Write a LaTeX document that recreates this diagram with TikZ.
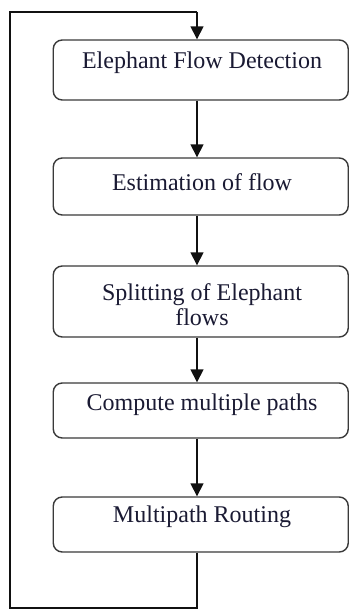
\documentclass[tikz,border=0pt]{standalone}
\usepackage{fontspec}
\setmainfont{Liberation Serif}
\usetikzlibrary{arrows.meta}
\definecolor{boxline}{HTML}{3A3A3A}
\definecolor{inkline}{HTML}{111111}
\definecolor{labelink}{HTML}{1A1A33}
\tikzset{
  stagebox/.style={draw=boxline, line width=1.4pt, rounded corners=9pt,
    minimum width=295pt, inner sep=0pt, fill=white},
  stagetext/.style={text=labelink, align=center, inner sep=0pt,
    font=\fontsize{24}{25}\selectfont},
  flow/.style={draw=inkline, line width=1.6pt,
    -{Triangle[width=13pt,length=13pt]}},
  loopline/.style={draw=inkline, line width=1.6pt}
}
\begin{document}
\begin{tikzpicture}[x=1pt,y=-1pt]
\useasboundingbox (0,0) rectangle (350,610);
% process stages
\node[stagebox, minimum height=60pt] (b1) at (200.75,70) {};
\node[stagebox, minimum height=57pt] (b2) at (200.75,186.5) {};
\node[stagebox, minimum height=71pt] (b3) at (200.75,301.5) {};
\node[stagebox, minimum height=55pt] (b4) at (200.75,410.5) {};
\node[stagebox, minimum height=55pt] (b5) at (200.75,524.5) {};
% stage labels
\node[stagetext] (t1) at (202,63) {Elephant Flow Detection};
\node[stagetext] (t2) at (202,182) {Estimation of flow};
\node[stagetext] (t3) at (202,304.5) {Splitting of Elephant\\flows};
\node[stagetext] (t4) at (202,405) {Compute multiple paths};
\node[stagetext] (t5) at (202,517) {Multipath Routing};
% feedback loop corners
\coordinate (spine) at (197,0);
\coordinate (topR) at (197,12);
\coordinate (topL) at (10,12);
\coordinate (botL) at (10,608);
\coordinate (botR) at (197,608);
% connectors
\draw[flow] (b1.south -| spine) -- (b2.north -| spine);
\draw[flow] (b2.south -| spine) -- (b3.north -| spine);
\draw[flow] (b3.south -| spine) -- (b4.north -| spine);
\draw[flow] (b4.south -| spine) -- (b5.north -| spine);
\draw[loopline] (b5.south -| spine) -- (botR) -- (botL) -- (topL) -- (topR);
\draw[flow] (topR) -- (b1.north -| spine);
\end{tikzpicture}
\end{document}
